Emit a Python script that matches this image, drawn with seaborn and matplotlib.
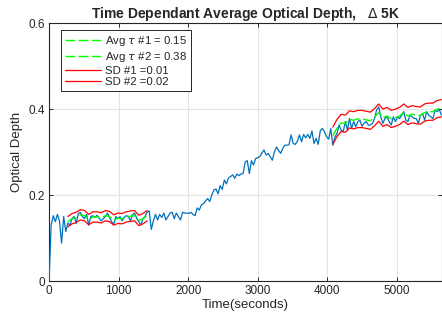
import numpy as np
import pandas as pd
import matplotlib
matplotlib.use("Agg")
import matplotlib.pyplot as plt
import seaborn as sns

# ------------------------------
# Data
# ------------------------------
# optical depth sampled every 30 s, starting at t = 0
tau = [
    0.000, 0.130, 0.152, 0.138, 0.155, 0.140, 0.088, 0.150, 0.115, 0.135,
    0.130, 0.145, 0.150, 0.134, 0.157, 0.160, 0.150, 0.145, 0.155, 0.130,
    0.150, 0.152, 0.148, 0.153, 0.146, 0.140, 0.145, 0.150, 0.158, 0.148,
    0.138, 0.132, 0.150, 0.145, 0.150, 0.140, 0.148, 0.152, 0.150, 0.140,
    0.155, 0.158, 0.146, 0.138, 0.130, 0.145, 0.150, 0.160, 0.163, 0.120,
    0.140, 0.155, 0.142, 0.155, 0.148, 0.158, 0.142, 0.150, 0.158, 0.160,
    0.145, 0.158, 0.150, 0.142, 0.160, 0.158,
    0.158, 0.157, 0.160, 0.155, 0.152, 0.170, 0.165, 0.177, 0.180, 0.186,
    0.192, 0.185, 0.200, 0.212, 0.214, 0.203, 0.222, 0.213, 0.235, 0.226,
    0.240, 0.243, 0.247, 0.239, 0.249, 0.245, 0.249, 0.250, 0.277, 0.280,
    0.250, 0.280, 0.270, 0.285, 0.287, 0.289, 0.298, 0.305, 0.293, 0.297,
    0.289, 0.281, 0.300, 0.312, 0.304, 0.297, 0.308, 0.316, 0.316, 0.317,
    0.340, 0.320, 0.318, 0.325, 0.340, 0.324, 0.341, 0.333, 0.341, 0.332,
    0.349, 0.320, 0.332, 0.318, 0.350, 0.355, 0.347, 0.336, 0.330, 0.355,
    0.316, 0.335, 0.343, 0.363, 0.351, 0.347, 0.371, 0.351, 0.378, 0.355,
    0.371, 0.359, 0.371, 0.374, 0.360, 0.367, 0.371, 0.363, 0.363, 0.367,
    0.378, 0.398, 0.405, 0.382, 0.367, 0.378, 0.382, 0.371, 0.363, 0.382,
    0.371, 0.382, 0.378, 0.385, 0.394, 0.374, 0.371, 0.386, 0.382, 0.378,
    0.378, 0.367, 0.385, 0.390, 0.374, 0.394, 0.386, 0.382, 0.378, 0.398,
    0.394, 0.400, 0.386,
]
dt = 30

# smoothed average over window 1 and window 2
avg1_t = [270, 330, 390, 450, 510, 570, 630, 690, 750, 810,
          870, 930, 990, 1050, 1110, 1170, 1230, 1290, 1350, 1410]
avg1 = [0.138, 0.145, 0.148, 0.154, 0.152, 0.143, 0.149, 0.149, 0.147, 0.152,
        0.150, 0.142, 0.146, 0.145, 0.149, 0.151, 0.152, 0.141, 0.145, 0.152]

avg2_t = [4080, 4140, 4200, 4260, 4320, 4380, 4440, 4500, 4560, 4620,
          4680, 4740, 4800, 4860, 4920, 4980, 5040, 5100, 5160, 5220,
          5280, 5340, 5400, 5460, 5520, 5580, 5640]
avg2 = [0.338, 0.356, 0.368, 0.366, 0.376, 0.374, 0.377, 0.377, 0.375, 0.373,
        0.381, 0.392, 0.380, 0.384, 0.377, 0.380, 0.384, 0.392, 0.384, 0.388,
        0.386, 0.385, 0.392, 0.394, 0.394, 0.400, 0.402]

sd1 = 0.012
sd2 = 0.02

x_ticks = [0, 1000, 2000, 3000, 4000, 5000]
y_ticks = [0, 0.2, 0.4, 0.6]
y_labels = ["0", "0.2", "0.4", "0.6"]

# ------------------------------
# Build frames
# ------------------------------
main_df = pd.DataFrame({"t": np.arange(len(tau)) * dt, "tau": tau})
w1 = pd.DataFrame({"t": avg1_t, "avg": avg1})
w2 = pd.DataFrame({"t": avg2_t, "avg": avg2})

# ------------------------------
# Plot
# ------------------------------
sns.set_style("ticks")
plt.rcParams["font.family"] = ["Liberation Sans", "DejaVu Sans"]
plt.rcParams["mathtext.fontset"] = "dejavusans"

fig = plt.figure(figsize=(4.42, 3.26), dpi=100)
ax = fig.add_axes([0.111, 0.138, 0.889, 0.791])

blue = (0.0, 0.447, 0.741)
green = (0.0, 1.0, 0.0)
red = (1.0, 0.0, 0.0)

sns.lineplot(data=main_df, x="t", y="tau", color=blue, lw=0.9, ax=ax, zorder=3)

sns.lineplot(data=w1, x="t", y="avg", color=green, lw=1.0, ls=(0, (7, 2.5)), ax=ax,
             zorder=4, label=rf"Avg $\tau$ #1 = {np.mean(avg1):.2f}")
sns.lineplot(data=w2, x="t", y="avg", color=green, lw=1.0, ls=(0, (7, 2.5)), ax=ax,
             zorder=4, label=rf"Avg $\tau$ #2 = {np.mean(avg2):.2f}")

ax.plot(w1["t"], w1["avg"] + sd1, color=red, lw=0.9, zorder=5, label=f"SD #1 ={sd1:.2f}")
ax.plot(w1["t"], w1["avg"] - sd1, color=red, lw=0.9, zorder=5)
ax.plot(w2["t"], w2["avg"] + sd2, color=red, lw=0.9, zorder=5, label=f"SD #2 ={sd2:.2f}")
ax.plot(w2["t"], w2["avg"] - sd2, color=red, lw=0.9, zorder=5)

ax.set_xlim(0, 5650)
ax.set_ylim(0, 0.6)
ax.set_xticks(x_ticks)
ax.set_yticks(y_ticks)
ax.set_yticklabels(y_labels)
ax.grid(True, color="#e3e3e3", lw=0.8, zorder=0)
ax.tick_params(direction="in", length=3, width=0.7, labelsize=8.5,
               top=True, right=True, colors="#262626", pad=3)
for s in ax.spines.values():
    s.set_color("#262626")
    s.set_linewidth(0.8)

ax.set_title(r"Time Dependant Average Optical Depth,   $\Delta$ 5K",
             fontsize=10, fontweight="bold", pad=4)
ax.set_xlabel("Time(seconds)", fontsize=9.5, color="#262626", labelpad=1)
ax.set_ylabel("Optical Depth", fontsize=9.5, color="#262626", labelpad=4)

leg = ax.legend(loc="upper left", bbox_to_anchor=(0.0305, 0.973), borderaxespad=0,
                fontsize=8.2, frameon=True, fancybox=False, framealpha=1,
                edgecolor="#262626", handlelength=3.2, handletextpad=0.3,
                labelspacing=0.15, borderpad=0.35)
leg.get_frame().set_linewidth(0.7)

fig.savefig("out.png", dpi=100)
